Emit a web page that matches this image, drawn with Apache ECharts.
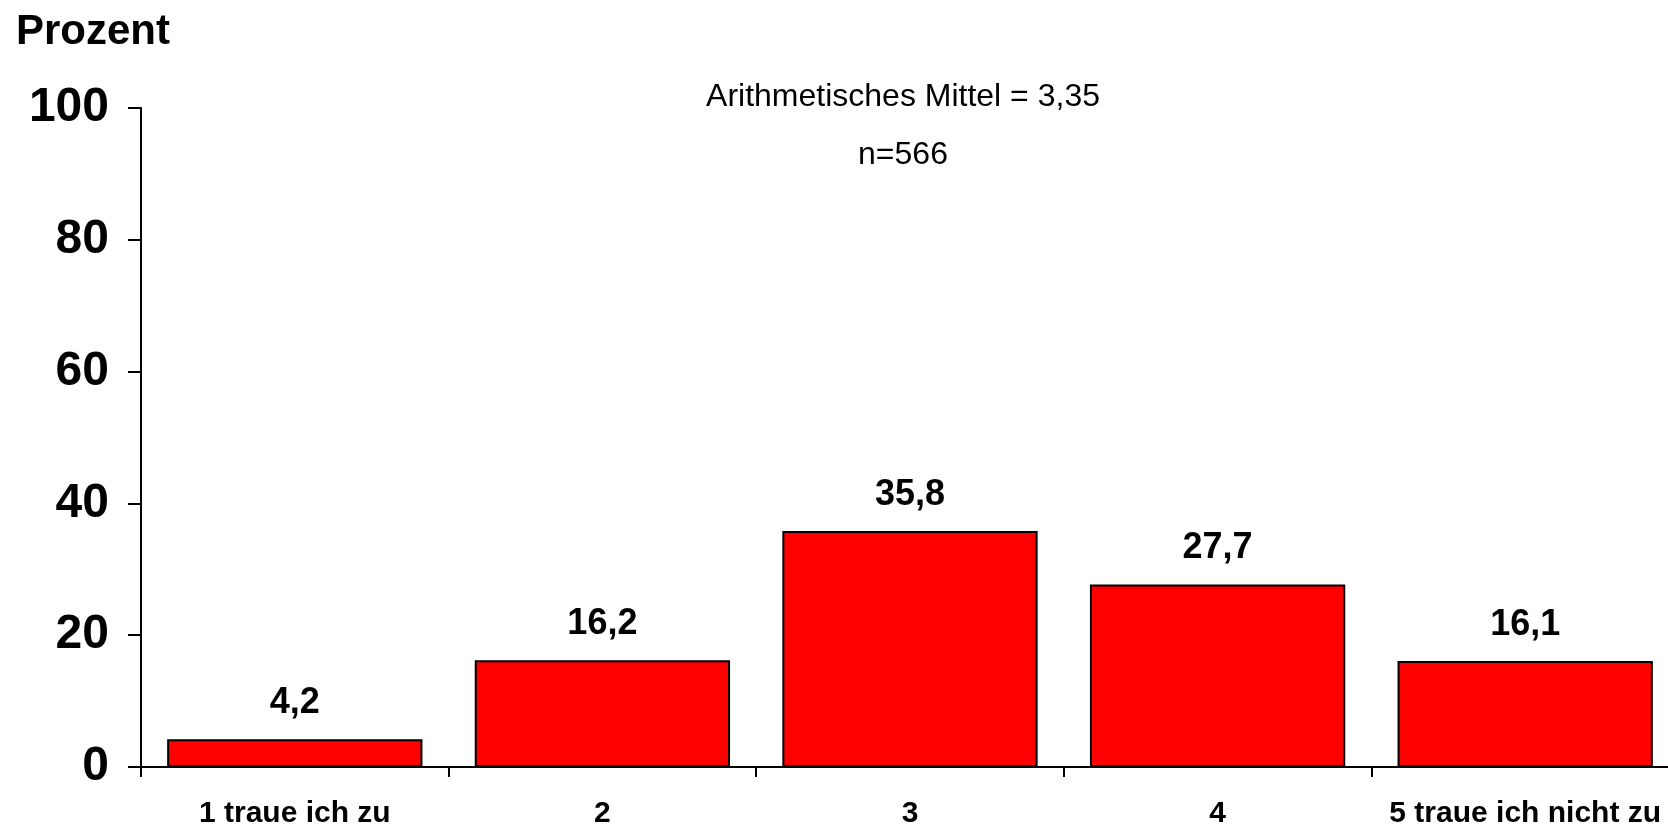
<!DOCTYPE html>
<html>
<head>
<meta charset="utf-8">
<script src="https://cdn.jsdelivr.net/npm/echarts@6/dist/echarts.min.js"></script>
<style>
html,body{margin:0;padding:0;background:#fff;overflow:hidden;width:1668px;height:829px;}
#chart{width:1700px;height:829px;}
</style>
</head>
<body>
<div id="chart"></div>
<script>
var categories = ['1 traue ich zu', '2', '3', '4', '5 traue ich nicht zu'];
var values = [4.2, 16.2, 35.8, 27.7, 16.1];
var yTicks = [0, 20, 40, 60, 80, 100];
var subtitleMean = 'Arithmetisches Mittel = 3,35';
var subtitleN = 'n=566';
var yTitle = 'Prozent';

var font = 'Arial, "Liberation Sans", Helvetica, sans-serif';
var chart = echarts.init(document.getElementById('chart'), null, {renderer: 'canvas'});
chart.setOption({
  backgroundColor: '#fff',
  animation: false,
  title: [
    {text: yTitle, left: 11, top: 6, textStyle: {fontFamily: font, fontSize: 42, fontWeight: 'bold', color: '#000'}},
    {text: subtitleMean, left: 898, top: 76, textAlign: 'center', textStyle: {fontFamily: font, fontSize: 32, fontWeight: 'normal', color: '#000'}},
    {text: subtitleN, left: 898, top: 134, textAlign: 'center', textStyle: {fontFamily: font, fontSize: 32, fontWeight: 'normal', color: '#000'}}
  ],
  grid: {left: 141, top: 108, width: 1538, height: 660, containLabel: false},
  xAxis: {
    type: 'category',
    data: categories,
    axisLine: {lineStyle: {color: '#000', width: 2}},
    axisTick: {show: true, length: 10, lineStyle: {color: '#000', width: 2}},
    axisLabel: {margin: 32, fontFamily: font, fontSize: 30, fontWeight: 'bold', color: '#000', interval: 0},
    splitLine: {show: false}
  },
  yAxis: {
    type: 'value',
    min: yTicks[0],
    max: yTicks[yTicks.length - 1],
    interval: yTicks[1] - yTicks[0],
    axisLine: {show: true, lineStyle: {color: '#000', width: 2}},
    axisTick: {show: true, length: 13, lineStyle: {color: '#000', width: 2}},
    axisLabel: {margin: 32, fontFamily: font, fontSize: 48, fontWeight: 'bold', color: '#000'},
    splitLine: {show: false}
  },
  series: [{
    type: 'bar',
    data: values,
    barWidth: '83%',
    itemStyle: {color: '#ff0000', borderColor: '#000', borderWidth: 2},
    label: {
      show: true,
      position: 'top',
      distance: 18,
      fontFamily: font,
      fontSize: 36,
      fontWeight: 'bold',
      color: '#000',
      formatter: function (p) { return String(p.value).replace('.', ','); }
    }
  }]
});
</script>
</body>
</html>
